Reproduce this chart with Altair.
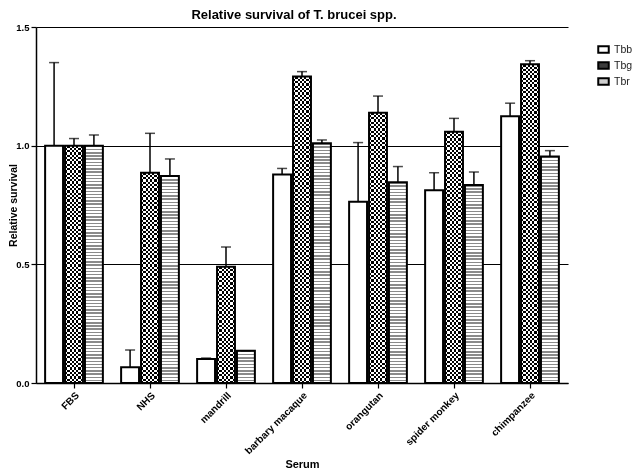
import altair as alt
import pandas as pd

# ---- data ----
categories = ["FBS", "NHS", "mandrill", "barbary macaque", "orangutan",
              "spider monkey", "chimpanzee"]
strains = ["Tbb", "Tbg", "Tbr"]
tbb = [1.000, 0.066, 0.101, 0.879, 0.764, 0.812, 1.124]
tbb_err = [0.350, 0.073, 0.004, 0.025, 0.249, 0.074, 0.055]
tbg = [1.000, 0.886, 0.490, 1.291, 1.139, 1.059, 1.343]
tbg_err = [0.030, 0.166, 0.083, 0.021, 0.070, 0.056, 0.015]
tbr = [1.000, 0.872, 0.136, 1.010, 0.846, 0.834, 0.954]
tbr_err = [0.045, 0.072, 0.000, 0.014, 0.066, 0.055, 0.025]

Y_MAX = 1.5
PLOT_W, PLOT_H = 532, 356

rows = []
for i, c in enumerate(categories):
    for s, vals, errs in (("Tbb", tbb, tbb_err), ("Tbg", tbg, tbg_err), ("Tbr", tbr, tbr_err)):
        rows.append({"serum": c, "strain": s, "value": vals[i], "err": errs[i],
                     "upper": vals[i] + errs[i]})
df = pd.DataFrame(rows)

FONT = "Liberation Sans"


def stripes(n, on, off, frac, vertical=False):
    stops = []
    for k in range(n):
        a = round(k / n, 5)
        b = round((k + frac) / n, 5)
        c = round((k + 1) / n, 5)
        stops += [{"offset": a, "color": on}, {"offset": b, "color": on},
                  {"offset": b, "color": off}, {"offset": c, "color": off}]
    g = {"gradient": "linear", "x1": 0, "y1": 0, "x2": 0, "y2": 1, "stops": stops}
    if vertical:
        g.update({"x2": 1, "y2": 0})
    return g


x_axis = alt.Axis(title="Serum", labelAngle=-45, grid=False,
                  domainColor="black", domainWidth=1.5,
                  tickColor="black", tickWidth=1.2, tickSize=5,
                  labelFont=FONT, labelFontWeight="bold", labelFontSize=10,
                  labelColor="black", labelPadding=2,
                  titleFont=FONT, titleFontWeight="bold", titleFontSize=11,
                  titleColor="black", titlePadding=3)
y_axis = alt.Axis(title="Relative survival", values=[0, 0.5, 1.0, 1.5],
                  format=".1f", grid=True, gridColor="black", gridWidth=1.2,
                  gridOpacity=1, domainColor="black", domainWidth=1.5,
                  tickColor="black", tickWidth=1.2, tickSize=5,
                  labelFont=FONT, labelFontWeight="bold", labelFontSize=9.5,
                  labelColor="black", labelPadding=2,
                  titleFont=FONT, titleFontWeight="bold", titleFontSize=10.5,
                  titleColor="black", titlePadding=-3)

x_enc = alt.X("serum:N", sort=categories,
              scale=alt.Scale(domain=categories, paddingInner=0.24, paddingOuter=0.12),
              axis=x_axis)
xo_enc = alt.XOffset("strain:N", scale=alt.Scale(domain=strains, paddingInner=0.1))
y_scale = alt.Scale(domain=[0, Y_MAX], nice=False)
y_enc = alt.Y("value:Q", scale=y_scale, axis=y_axis)
y_up = alt.Y("upper:Q", scale=y_scale, axis=y_axis)

base = alt.Chart(df)

# base bars (give the legend)
bars = base.mark_bar().encode(
    x=x_enc, xOffset=xo_enc, y=y_enc,
    fill=alt.Fill("strain:N",
                  scale=alt.Scale(domain=strains, range=["white", "#3c3c3c", "#cfcfcf"]),
                  legend=alt.Legend(title=None, orient="none", legendX=561, legendY=16,
                                    padding=0, symbolType="M-1,-0.6H1V0.6H-1Z",
                                    symbolSize=110, symbolStrokeColor="black",
                                    symbolStrokeWidth=2, symbolOpacity=1,
                                    labelFont=FONT, labelFontSize=10.5,
                                    labelColor="#222", rowPadding=1, labelOffset=4)),
)

layers = [bars]

# pattern layers
px_per_unit = PLOT_H / Y_MAX
for i, c in enumerate(categories):
    h_g = tbg[i] * px_per_unit
    h_r = tbr[i] * px_per_unit
    n_g = max(1, round(h_g / 4.5))
    n_r = max(1, round(h_r / 3.2))
    layers.append(base.transform_filter(
        f"datum.serum == '{c}' && datum.strain == 'Tbg'"
    ).mark_bar(fill=stripes(n_g, "black", "white", 0.5)).encode(
        x=x_enc, xOffset=xo_enc, y=y_enc))
    layers.append(base.transform_filter(
        f"datum.serum == '{c}' && datum.strain == 'Tbr'"
    ).mark_bar(fill=stripes(n_r, "#8a8a8a", "white", 0.45)).encode(
        x=x_enc, xOffset=xo_enc, y=y_enc))

# vertical stripes, difference blend -> checkerboard
layers.append(base.transform_filter("datum.strain == 'Tbg'").mark_bar(
    fill=stripes(4, "white", "black", 0.5, vertical=True), blend="difference"
).encode(x=x_enc, xOffset=xo_enc, y=y_enc))

# outlines
layers.append(base.mark_bar(fillOpacity=0, stroke="black", strokeWidth=2).encode(
    x=x_enc, xOffset=xo_enc, y=y_enc))

# error bars (upper only)
layers.append(base.mark_rule(color="black", strokeWidth=1.5).encode(
    x=x_enc, xOffset=xo_enc, y=y_enc, y2="upper:Q"))
layers.append(base.mark_tick(color="black", thickness=1.5, size=10, orient="horizontal").encode(
    x=x_enc, xOffset=xo_enc, y=y_up))

chart = alt.layer(*layers).properties(
    width=PLOT_W, height=PLOT_H,
    title=alt.Title("Relative survival of T. brucei spp.", font=FONT, fontSize=13,
                    fontWeight="bold", color="black", anchor="middle", frame="group",
                    offset=8, dx=-8, dy=8),
    autosize=alt.AutoSizeParams(type="none"),
    padding={"left": 28, "top": 19, "right": 64, "bottom": 89},
    background="white",
).configure_view(stroke="transparent")

chart.save("out.html", embed_options={"renderer": "svg", "actions": False})
